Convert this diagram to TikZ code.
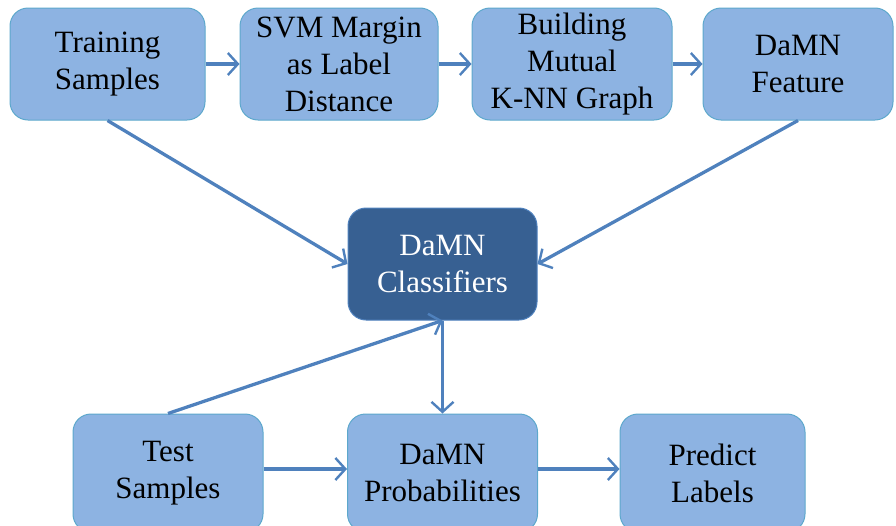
\documentclass[tikz,border=0pt]{standalone}
\usepackage{fontspec}
\setmainfont{Liberation Serif}
\newfontfamily\boxfont{Liberation Serif}
\usetikzlibrary{arrows.meta}
\definecolor{boxfill}{HTML}{8DB3E2}
\definecolor{boxline}{HTML}{5DA8CC}
\definecolor{darkfill}{HTML}{376092}
\definecolor{darkline}{HTML}{4F81BD}
\definecolor{arrowcol}{HTML}{4F81BD}
\begin{document}
\begin{tikzpicture}[x=1pt,y=-1pt,
  boxstyle/.style={draw=boxline, line width=1pt, fill=boxfill, rounded corners=18pt,
    minimum height=112pt, inner sep=0pt, align=center,
    font=\boxfont\fontsize{31}{37}\selectfont, text=black},
  darkbox/.style={boxstyle, fill=darkfill, draw=darkline, text=white},
  conn/.style={draw=arrowcol, line width=3.3pt, -{Straight Barb[length=10pt,width=22pt,line width=2.4pt]}}]
\useasboundingbox (0,0) rectangle (896,525);
\node[boxstyle, minimum width=195pt] (train) at (107.5,64) {Training\\Samples};
\node[boxstyle, minimum width=198pt] (svm) at (339,64) {SVM Margin\\as Label\\Distance};
\node[boxstyle, minimum width=200pt] (knn) at (572,64) {Building\\Mutual\\K-NN Graph};
\node[boxstyle, minimum width=190pt] (feat) at (798,64) {DaMN\\Feature};
\node[darkbox, minimum width=189pt] (clf) at (442.5,264) {DaMN\\Classifiers};
\node[boxstyle, minimum width=190pt, minimum height=118pt] (test) at (168,473) {Test\\Samples};
\node[boxstyle, minimum width=190pt, minimum height=118pt] (prob) at (442.5,473) {DaMN\\Probabilities};
\node[boxstyle, minimum width=185pt, minimum height=118pt] (pred) at (712.5,473) {Predict\\Labels};
\draw[conn] (train) -- (svm);
\draw[conn] (svm) -- (knn);
\draw[conn] (knn) -- (feat);
\draw[conn] (train.south) -- (clf.west);
\draw[conn] (feat.south) -- (clf.east);
\draw[conn] (test.north) -- (clf.south);
\draw[conn] (clf.south) -- (prob.north);
\draw[conn] (test.east |- 0,469) -- (prob.west |- 0,469);
\draw[conn] (prob.east |- 0,469) -- (pred.west |- 0,469);
\end{tikzpicture}
\end{document}
